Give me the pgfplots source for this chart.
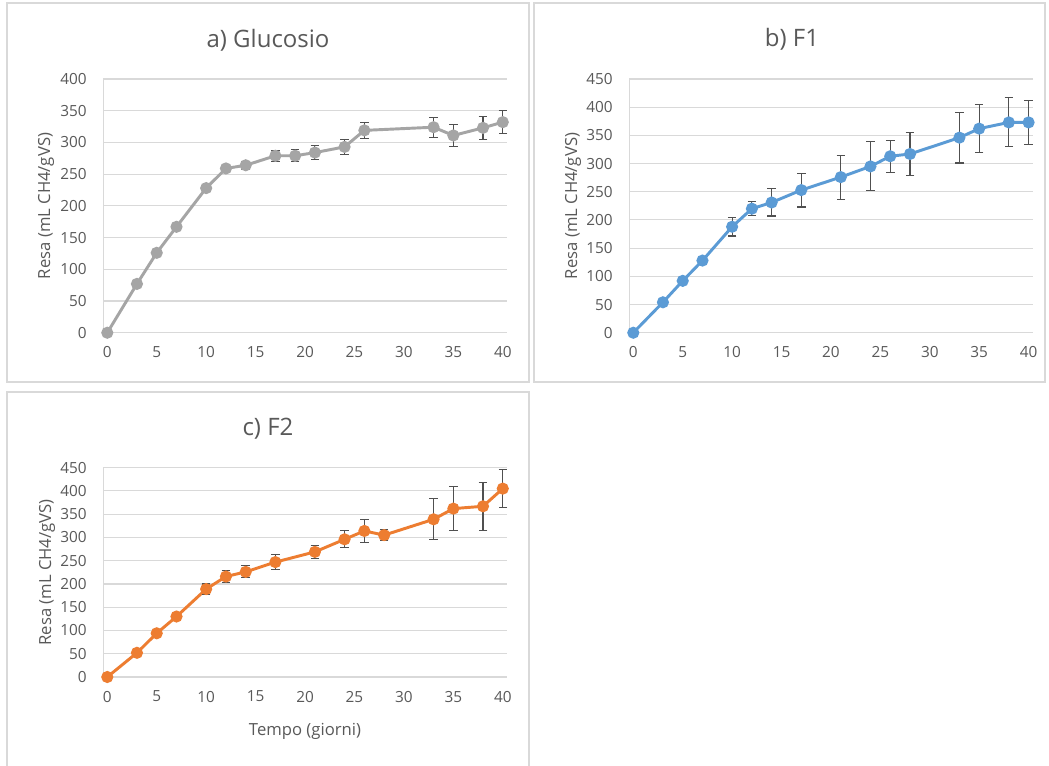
\documentclass[border=0pt]{standalone}
\usepackage{pgfplots}
\pgfplotsset{compat=1.18}
\usepackage{pgfplotstable}
\usepackage{fontspec}
\setmainfont{Open Sans}
\definecolor{gridc}{HTML}{D9D9D9}
\definecolor{txt}{HTML}{595959}
\definecolor{sgray}{HTML}{A5A5A5}
\definecolor{sblue}{HTML}{5B9BD5}
\definecolor{sorange}{HTML}{ED7D31}
\definecolor{errc}{HTML}{505050}

\pgfplotstableread{
x y e
0 0 0
3 77 2
5 126 3
7 167 3
10 228 3
12 259 4
14 264 6
17 279 9
19 279 9.5
21 284 11
24 293 12
26 319 13
33 324 16
35 311 17
38 323 18
40 332 18
}\dataA
\pgfplotstableread{
x y e
0 0 0
3 54 3
5 92 4
7 128 7
10 188 16.5
12 220 12
14 231 24
17 253 30
21 276 39
24 295 43.5
26 313 28.5
28 317 38.5
33 346 45
35 362 42.5
38 373 43.5
40 373 39.5
}\dataB
\pgfplotstableread{
x y e
0 0 0
3 52 3
5 94 4
7 130 6
10 189 11
12 216 13.5
14 226 13
17 247 16.5
21 269 14.5
24 296 18
26 314 25
28 305 12
33 339 44
35 362 47
38 367 52
40 405 41
}\dataC

\pgfplotsset{
  panel/.style={
    scale only axis,
    xmin=-0.4, xmax=40.4, ymin=0,
    xtick={0,5,...,40},
    axis x line=bottom, axis y line=left,
    axis line style={draw=gridc, line width=0.8pt, -},
    ymajorgrids, grid style={draw=gridc, line width=0.8pt},
    major tick length=0pt,
    tick label style={font=\fontsize{11.5}{13}\selectfont, text=txt},
    /pgf/number format/assume math mode=true,
    xticklabel style={yshift=-7pt},
    yticklabel style={xshift=-9pt},
    clip=false,
  },
  dataline/.style={line width=2.2pt, mark=*, mark size=3.4pt,
    error bars/y dir=both, error bars/y explicit,
    error bars/error bar style={draw=errc, line width=0.8pt},
    error bars/error mark options={draw=errc, rotate=90, mark size=3.2pt, line width=0.8pt}},
}

\begin{document}
\begin{tikzpicture}
\useasboundingbox (0,0) rectangle (786.75pt,573.75pt);
\fill[white] (0,0) rectangle (786.75pt,573.75pt);
% panel borders
\draw[gridc, line width=0.8pt] (5.25pt,287.25pt) rectangle (396.75pt,571.5pt);
\draw[gridc, line width=0.8pt] (400.5pt,287.25pt) rectangle (783.75pt,571.5pt);
\draw[gridc, line width=0.8pt] (5.25pt,-2pt) -- (5.25pt,279.75pt) -- (396.75pt,279.75pt) -- (396.75pt,-2pt);

% panel a
\begin{axis}[panel, at={(77.5pt,324.2pt)}, anchor=south west,
  width=302.55pt, height=190.3pt, ymax=400, ytick={0,50,...,400}]
\addplot[color=sgray, mark options={fill=sgray, draw=sgray}, dataline] table[x=x, y=y, y error=e] {\dataA};
\end{axis}

% panel b
\begin{axis}[panel, at={(472pt,324.2pt)}, anchor=south west,
  width=302.4pt, height=190.3pt, ymax=450, ytick={0,50,...,450}]
\addplot[color=sblue, mark options={fill=sblue, draw=sblue}, dataline] table[x=x, y=y, y error=e] {\dataB};
\end{axis}

% panel c
\begin{axis}[panel, at={(77.5pt,66pt)}, anchor=south west,
  width=302.55pt, height=157pt, ymax=450, ytick={0,50,...,450}]
\addplot[color=sorange, mark options={fill=sorange, draw=sorange}, dataline] table[x=x, y=y, y error=e] {\dataC};
\end{axis}

% titles and labels
\node[anchor=base, text=txt, font=\fontsize{18}{20}\selectfont] at (201pt,538.3pt) {a) Glucosio};
\node[anchor=base, text=txt, font=\fontsize{18}{20}\selectfont] at (594pt,538.7pt) {b) F1};
\node[anchor=base, text=txt, font=\fontsize{18}{20}\selectfont] at (201pt,247.5pt) {c) F2};
\node[rotate=90, text=txt, font=\fontsize{12.5}{14}\selectfont] at (34.5pt,419.25pt) {Resa (mL CH4/gVS)};
\node[rotate=90, text=txt, font=\fontsize{12.5}{14}\selectfont] at (429.75pt,419.25pt) {Resa (mL CH4/gVS)};
\node[rotate=90, text=txt, font=\fontsize{12.5}{14}\selectfont] at (35.25pt,144.5pt) {Resa (mL CH4/gVS)};
\node[text=txt, font=\fontsize{12.5}{14}\selectfont] at (228.75pt,25pt) {Tempo (giorni)};
\end{tikzpicture}
\end{document}
